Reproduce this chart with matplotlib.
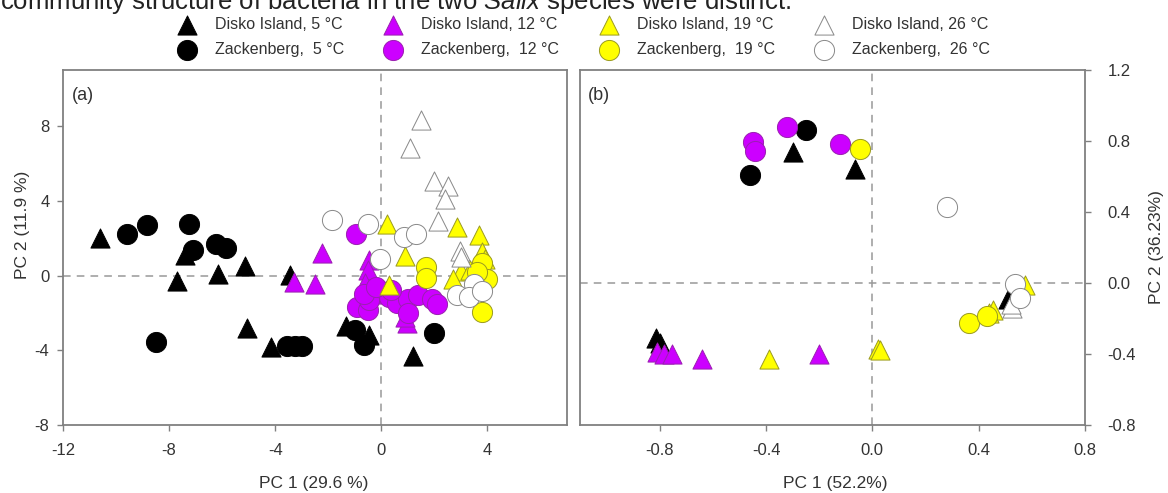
import numpy as np
import matplotlib
matplotlib.use('Agg')
import matplotlib.pyplot as plt

plt.rcParams['font.family'] = ['Liberation Sans', 'DejaVu Sans']
plt.rcParams['axes.unicode_minus'] = False
plt.rcParams['mathtext.fontset'] = 'custom'
plt.rcParams['mathtext.it'] = 'Liberation Sans:italic'
plt.rcParams['mathtext.rm'] = 'Liberation Sans'

labels = ['Disko Island, 5 °C', 'Zackenberg,  5 °C',
          'Disko Island, 12 °C', 'Zackenberg,  12 °C',
          'Disko Island, 19 °C', 'Zackenberg,  19 °C',
          'Disko Island, 26 °C', 'Zackenberg,  26 °C']

# panel (a): PC1 / PC2 scores
a_disko_5 = [(-10.6, 2.0), (-7.7, -0.3), (-7.4, 1.1), (-6.15, 0.1), (-5.15, 0.5), (-5.05, -2.8),
             (-4.15, -3.8), (-3.45, 0.05), (-1.35, -2.7), (-0.45, -3.2), (1.2, -4.3)]
a_zack_5 = [(-9.6, 2.2), (-8.85, 2.7), (-7.25, 2.75), (-7.1, 1.35), (-6.25, 1.7), (-5.85, 1.45),
            (-8.5, -3.55), (-3.55, -3.75), (-3.25, -3.75), (-3.0, -3.75), (-1.0, -2.9),
            (-0.65, -3.7), (2.0, -3.05)]
a_disko_12 = [(-3.3, -0.35), (-2.5, -0.45), (-2.25, 1.2), (-0.45, 0.85), (-0.5, 0.3),
              (-0.6, -0.4), (0.95, -2.55), (-0.3, -1.0), (0.9, -2.2)]
a_zack_12 = [(-0.95, 2.2), (-0.9, -1.7), (-0.5, -1.85), (-0.45, -1.3), (-0.65, -1.0), (0.3, -1.15),
             (0.6, -1.45), (1.0, -1.25), (1.0, -2.0), (1.4, -1.05), (1.9, -1.25), (2.1, -1.5),
             (0.35, -0.8), (-0.2, -0.6)]
a_disko_19 = [(0.2, 2.75), (0.9, 1.05), (0.3, -0.5), (2.85, 2.6), (3.7, 2.15), (3.8, 1.25),
              (3.0, 0.25), (2.7, -0.2), (3.35, 0.3), (3.9, 0.9)]
a_zack_19 = [(1.7, 0.45), (1.7, -0.15), (3.8, 0.65), (4.0, -0.2), (3.8, -1.95), (3.6, 0.2)]
a_disko_26 = [(1.5, 8.3), (1.1, 6.85), (2.0, 5.05), (2.5, 4.8), (2.4, 4.1), (2.15, 2.9),
              (2.95, 1.3), (3.0, 1.0)]
a_zack_26 = [(-1.85, 2.95), (-0.5, 2.75), (-0.05, 0.9), (0.85, 2.05), (1.3, 2.2), (3.5, -0.45),
             (2.85, -1.05), (3.3, -1.15), (3.8, -0.85)]

# panel (b)
b_disko_5 = [(-0.815, -0.31), (-0.80, -0.34), (-0.30, 0.74), (-0.065, 0.64), (0.51, -0.09)]
b_zack_5 = [(-0.25, 0.86), (-0.46, 0.61)]
b_disko_12 = [(-0.81, -0.39), (-0.785, -0.40), (-0.755, -0.40), (-0.64, -0.43), (-0.20, -0.40)]
b_zack_12 = [(-0.32, 0.88), (-0.45, 0.795), (-0.44, 0.745), (-0.12, 0.785)]
b_disko_19 = [(-0.39, -0.43), (0.02, -0.37), (0.03, -0.38), (0.455, -0.15), (0.44, -0.17),
              (0.575, -0.01)]
b_zack_19 = [(-0.045, 0.757), (0.362, -0.225), (0.431, -0.187)]
b_disko_26 = [(0.525, -0.14), (0.52, -0.12)]
b_zack_26 = [(0.28, 0.426), (0.537, -0.007), (0.556, -0.083)]

a_groups = [a_disko_5, a_zack_5, a_disko_12, a_zack_12, a_disko_19, a_zack_19, a_disko_26, a_zack_26]
b_groups = [b_disko_5, b_zack_5, b_disko_12, b_zack_12, b_disko_19, b_zack_19, b_disko_26, b_zack_26]

styles = [('^', 'black', 'black'), ('o', 'black', 'black'),
          ('^', '#CC00FF', '#9a20b0'), ('o', '#CC00FF', '#9a20b0'),
          ('^', '#FFFF00', '#9a9a20'), ('o', '#FFFF00', '#9a9a20'),
          ('^', 'white', '#888888'), ('o', 'white', '#888888')]

spine_c = '#808080'
text_c = '#333333'

fig = plt.figure(figsize=(11.68, 4.93), dpi=100)
ax1 = fig.add_axes([63 / 1168, 68 / 493, 504 / 1168, 355 / 493])
ax2 = fig.add_axes([580 / 1168, 68 / 493, 505 / 1168, 355 / 493])

handles = []
for ax, groups in [(ax1, a_groups), (ax2, b_groups)]:
    ax.axhline(0, color='#999999', ls=(0, (5, 4)), lw=1.1, zorder=1)
    ax.axvline(0, color='#999999', ls=(0, (5, 4)), lw=1.1, zorder=1)
    hs = []
    for pts, (m, fc, ec), lab in zip(groups, styles, labels):
        pts = np.array(pts)
        s = 210 if m == 'o' else 190
        h = ax.scatter(pts[:, 0], pts[:, 1], marker=m, s=s, facecolor=fc,
                       edgecolor=ec, linewidth=0.7, zorder=3, label=lab)
        hs.append(h)
    if not handles:
        handles = hs
    for sp in ax.spines.values():
        sp.set_color(spine_c)
        sp.set_linewidth(1.3)

ax1.set_xlim(-12, 7)
ax1.set_ylim(-8, 11)
ax1.set_xticks([-12, -8, -4, 0, 4])
ax1.set_yticks([-8, -4, 0, 4, 8])
ax1.tick_params(direction='out', length=4.3, width=1, color=spine_c, labelcolor=text_c,
                labelsize=12)
ax1.tick_params(axis='x', pad=9)
ax1.tick_params(axis='y', pad=5.5)
ax1.set_xlabel('PC 1 (29.6 %)', fontsize=12.5, color=text_c)
ax1.set_ylabel('PC 2 (11.9 %)', fontsize=12.5, color=text_c)
ax1.xaxis.set_label_coords(0.498, -0.145)
ax1.yaxis.set_label_coords(-0.066, 0.563)
ax1.text(0.018, 0.927, '(a)', transform=ax1.transAxes, fontsize=13, color=text_c, va='center')

ax2.set_xlim(-1.1, 0.8)
ax2.set_ylim(-0.8, 1.2)
ax2.set_xticks([-0.8, -0.4, 0.0, 0.4, 0.8])
ax2.set_xticklabels(['-0.8', '-0.4', '0.0', '0.4', '0.8'])
ax2.set_yticks([-0.8, -0.4, 0.0, 0.4, 0.8, 1.2])
ax2.set_yticklabels(['-0.8', '-0.4', '0.0', '0.4', '0.8', '1.2'])
ax2.yaxis.tick_right()
ax2.yaxis.set_label_position('right')
ax2.tick_params(direction='out', length=4.3, width=1, color=spine_c, labelcolor=text_c,
                labelsize=12)
ax2.tick_params(axis='x', pad=9)
ax2.tick_params(axis='y', pad=12)
ax2.set_xlabel('PC 1 (52.2%)', fontsize=12.5, color=text_c)
ax2.set_ylabel('PC 2 (36.23%)', fontsize=12.5, color=text_c, rotation=90)
ax2.xaxis.set_label_coords(0.505, -0.145)
ax2.yaxis.set_label_coords(1.126, 0.5)
ax2.text(0.016, 0.927, '(b)', transform=ax2.transAxes, fontsize=13, color=text_c, va='center')

fig.legend(handles, labels, ncol=4, loc='center', bbox_to_anchor=(0.497, 0.925),
           frameon=False, fontsize=11.5, handletextpad=0.75, columnspacing=2.1,
           labelspacing=0.6, scatterpoints=1, labelcolor=text_c, borderpad=0.2)

fig.text(0.0, 1 - 9 / 493, r'community structure of bacteria in the two $\mathit{Salix}$ species were distinct.',
         fontsize=18.5, color='#222222', va='baseline')

fig.savefig('out.png', dpi=100)
